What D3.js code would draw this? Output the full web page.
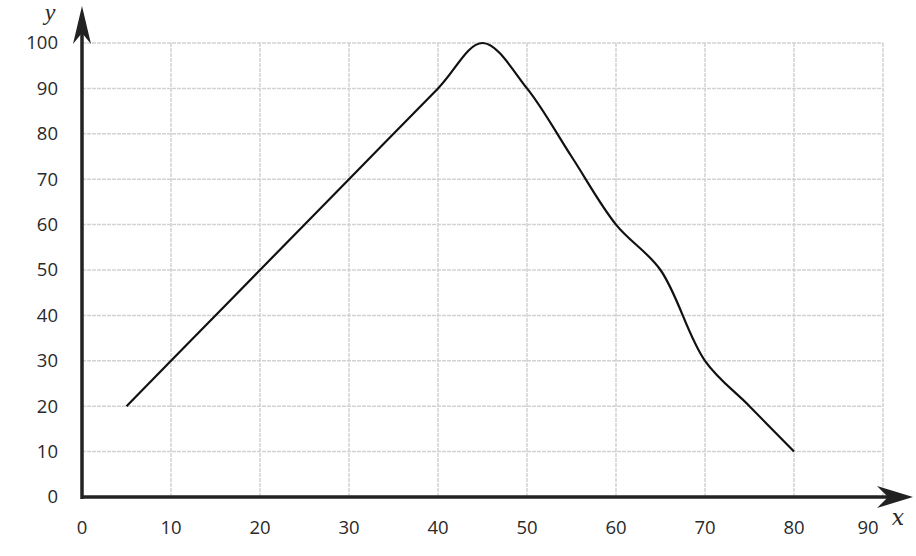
<!DOCTYPE html>
<html lang="en">
<head>
    <meta charset="UTF-8">
    <script src="https://d3js.org/d3.v7.min.js"></script>
    <title>Chart</title>
    <style>
        body { margin: 0; background: #fff; }
        text { font-family: "Open Sans", "Noto Sans", sans-serif; fill: #2a2a2a; }
    </style>
</head>
<body>
    <svg width="916" height="556" id="chart"></svg>
    <script>
        // data
        const xVals = [5, 10, 20, 30, 40, 45, 50, 55, 60, 65, 70, 75, 80];
        const yVals = [20, 30, 50, 70, 90, 100, 90, 75, 60, 50, 30, 20, 10];
        const xTicks = [0, 10, 20, 30, 40, 50, 60, 70, 80, 90];
        const yTicks = [0, 10, 20, 30, 40, 50, 60, 70, 80, 90, 100];

        let svg = d3.select("#chart");

        let x = d3.scaleLinear().domain([0, 90]).range([82, 883]);
        let y = d3.scaleLinear().domain([0, 100]).range([497, 43]);

        // grid
        svg.append("g")
            .selectAll("line")
            .data(xTicks.filter(d => d > 0))
            .join("line")
            .attr("x1", d => x(d)).attr("x2", d => x(d))
            .attr("y1", y(100)).attr("y2", y(0))
            .attr("stroke", "#d2d2d2")
            .attr("stroke-width", 1.5)
            .attr("stroke-dasharray", "4,1");

        svg.append("g")
            .selectAll("line")
            .data(yTicks.filter(d => d > 0))
            .join("line")
            .attr("x1", x(0)).attr("x2", x(90))
            .attr("y1", d => y(d)).attr("y2", d => y(d))
            .attr("stroke", "#d2d2d2")
            .attr("stroke-width", 1.5)
            .attr("stroke-dasharray", "4,1");

        // tick labels
        svg.append("g")
            .selectAll("text")
            .data(yTicks)
            .join("text")
            .attr("x", 58)
            .attr("y", d => y(d))
            .attr("dy", "0.35em")
            .attr("text-anchor", "end")
            .style("font-size", "18.5px")
            .text(d => d);

        // last label sits left of the arrow head
        svg.append("g")
            .selectAll("text")
            .data(xTicks)
            .join("text")
            .attr("x", d => d == 90 ? x(d) - 15 : x(d))
            .attr("y", 528)
            .attr("dy", "0.35em")
            .attr("text-anchor", "middle")
            .style("font-size", "18.5px")
            .text(d => d);

        // curve
        let line = d3.line()
            .x((d, i) => x(xVals[i]))
            .y((d, i) => y(yVals[i]))
            .curve(d3.curveCatmullRom.alpha(0.5));

        svg.append("path")
            .attr("d", line(xVals))
            .attr("fill", "none")
            .attr("stroke", "#111")
            .attr("stroke-width", 2.2);

        // axes with arrows
        svg.append("line")
            .attr("x1", x(0)).attr("x2", 900)
            .attr("y1", y(0)).attr("y2", y(0))
            .attr("stroke", "#222").attr("stroke-width", 3.5);
        svg.append("path")
            .attr("d", "M913,497 L877,486 L888,497 L877,508 Z")
            .attr("fill", "#222");

        svg.append("line")
            .attr("x1", x(0)).attr("x2", x(0))
            .attr("y1", y(0) + 2).attr("y2", 20)
            .attr("stroke", "#222").attr("stroke-width", 3.5);
        svg.append("path")
            .attr("d", "M82,6 L73,44 L82,33 L91,44 Z")
            .attr("fill", "#222");

        // axis names
        svg.append("text")
            .attr("x", 898).attr("y", 525)
            .attr("text-anchor", "middle")
            .style("font-family", "'DejaVu Serif', 'Liberation Serif', serif")
            .style("font-style", "italic")
            .style("font-size", "22px")
            .text("x");

        svg.append("text")
            .attr("x", 50).attr("y", 20)
            .attr("text-anchor", "middle")
            .style("font-family", "'Liberation Serif', serif")
            .style("font-style", "italic")
            .style("font-size", "24px")
            .text("y");
    </script>
</body>
</html>
